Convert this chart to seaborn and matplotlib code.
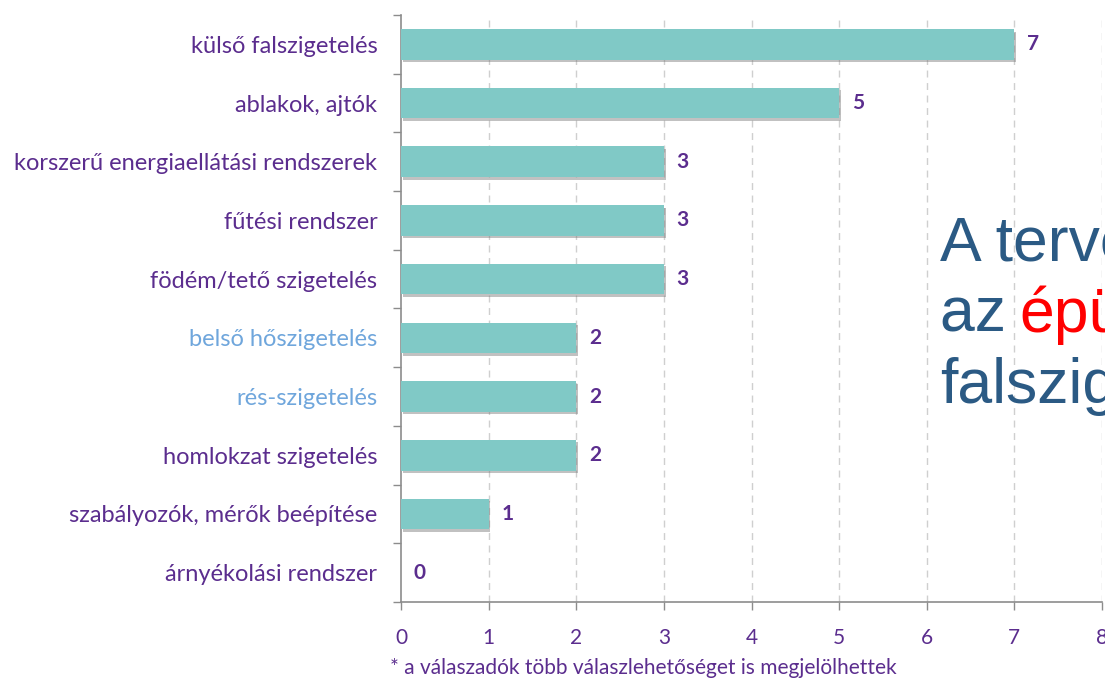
import matplotlib
matplotlib.use("Agg")
import matplotlib.pyplot as plt
import matplotlib.patheffects as pe
from matplotlib.ticker import FixedLocator
import seaborn as sns
import pandas as pd

categories = [
    "külső falszigetelés",
    "ablakok, ajtók",
    "korszerű energiaellátási rendszerek",
    "fűtési rendszer",
    "födém/tető szigetelés",
    "belső hőszigetelés",
    "rés-szigetelés",
    "homlokzat szigetelés",
    "szabályozók, mérők beépítése",
    "árnyékolási rendszer",
]
counts = [7, 5, 3, 3, 3, 2, 2, 2, 1, 0]
x_ticks = [0, 1, 2, 3, 4, 5, 6, 7, 8]
footnote = "* a válaszadók több válaszlehetőséget is megjelölhettek"
headline = ["A terve", "az ", "épü", "falszig"]

purple = "#5B2D8E"
light_blue = "#6FA6DC"
teal = "#80C9C6"
navy = "#2B5A84"

df = pd.DataFrame({"category": categories, "count": counts})

sns.set_style("white")
plt.rcParams["font.family"] = ["Lato", "DejaVu Sans"]

fig = plt.figure(figsize=(11.05, 6.81), dpi=100)
ax = fig.add_axes([401 / 1105, 1 - 602 / 681, 701 / 1105, 587 / 681])

sns.barplot(data=df, x="count", y="category", color=teal, saturation=1,
            width=0.52, orient="h", ax=ax, zorder=3)

shadow = [pe.SimplePatchShadow(offset=(1.2, -1.8), shadow_rgbFace="#777777", alpha=0.45),
          pe.Normal()]
for patch in ax.patches:
    patch.set_edgecolor("none")
    patch.set_path_effects(shadow)

ax.bar_label(ax.containers[0], labels=[str(v) for v in counts], padding=9,
             color=purple, fontsize=15, fontweight="bold")

ax.set_xlim(0, 8)
ax.set_ylim(len(categories) - 0.5, -0.5)
ax.set_xticks(x_ticks)
ax.set_xticklabels([str(t) for t in x_ticks], color=purple, fontsize=15)
ax.set_xlabel("")
ax.set_ylabel("")

for t in x_ticks[1:]:
    ax.axvline(t, color="#cfcfcf", linestyle=(0, (5, 4)), linewidth=1, zorder=1)

ax.yaxis.set_minor_locator(FixedLocator([i - 0.5 for i in range(len(categories) + 1)]))
ax.tick_params(axis="y", which="major", length=0, pad=17, labelsize=17)
ax.tick_params(axis="y", which="minor", length=6, color="#8c8c8c", width=1, left=True)
ax.tick_params(axis="x", which="major", length=6, color="#8c8c8c", width=1,
               bottom=True, pad=13)

for lbl in ax.get_yticklabels():
    txt = lbl.get_text()
    lbl.set_color(light_blue if txt in ("belső hőszigetelés", "rés-szigetelés") else purple)

for side in ("top", "right"):
    ax.spines[side].set_visible(False)
for side in ("left", "bottom"):
    ax.spines[side].set_color("#8c8c8c")
    ax.spines[side].set_linewidth(1.2)

fig.text(390 / 1105, 1 - 668 / 681, footnote, color=purple, fontsize=15,
         va="center", ha="left")

big = dict(fontsize=45, family=["Liberation Sans", "DejaVu Sans"], va="baseline", ha="left")
fig.text(940 / 1105, 1 - 260 / 681, headline[0], color=navy, **big)
fig.text(940 / 1105, 1 - 332 / 681, headline[1], color=navy, **big)
fig.text(1019 / 1105, 1 - 332 / 681, headline[2], color="#FF0000", **big)
fig.text(940 / 1105, 1 - 403 / 681, headline[3], color=navy, **big)

fig.savefig("out.png", dpi=100)
